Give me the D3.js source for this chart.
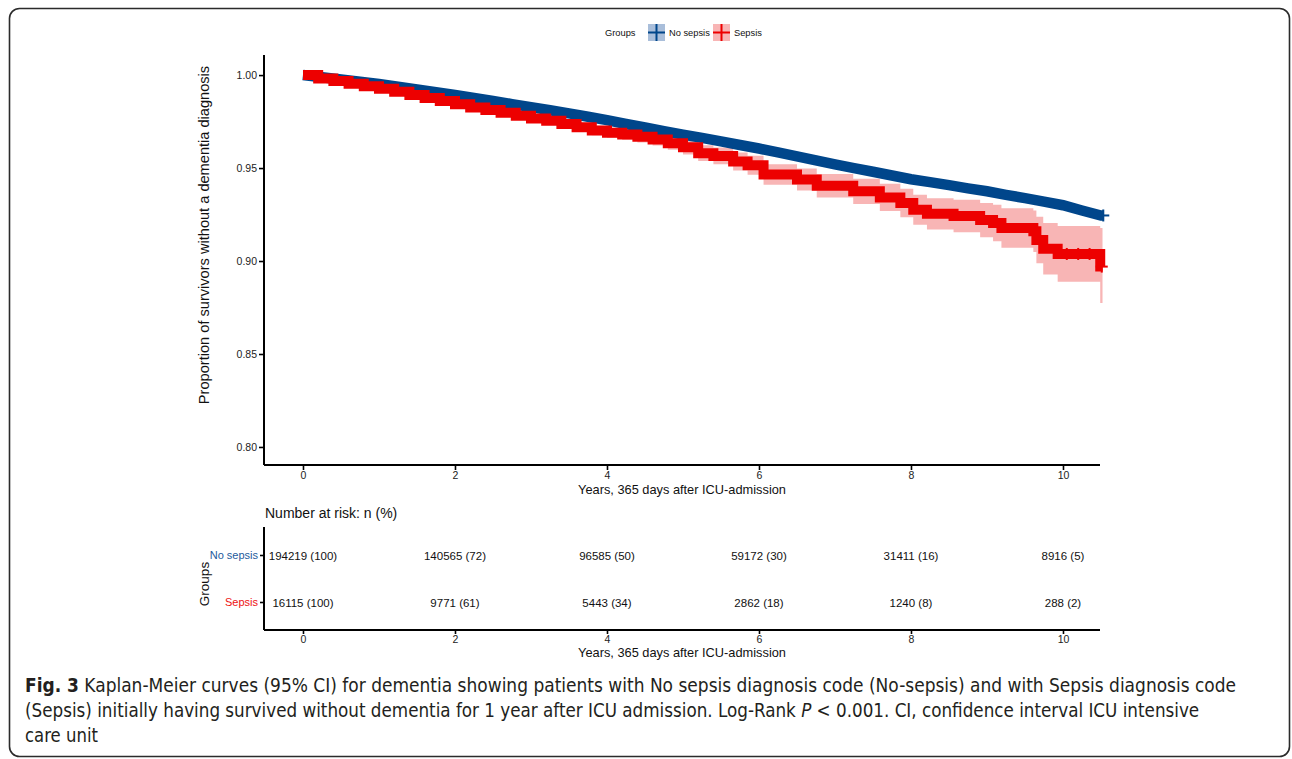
<!DOCTYPE html>
<html><head><meta charset="utf-8">
<script src="https://cdn.jsdelivr.net/npm/d3@7"></script>
<style>
html,body{margin:0;padding:0;background:#fff;}
svg{display:block;font-family:"Liberation Sans",Arial,Helvetica,sans-serif;}
svg text{font-family:"Liberation Sans",Arial,Helvetica,sans-serif;}
svg text.cap{font-family:"DejaVu Sans Condensed","Liberation Sans Narrow",sans-serif;}
</style></head><body>
<svg id="c" width="1292" height="759"></svg>
<script>
// ---------- DATA ----------
const groups = ["No sepsis", "Sepsis"];
const xTicks = [0, 2, 4, 6, 8, 10];
const yTicks = [0.80, 0.85, 0.90, 0.95, 1.00];
const riskNoSepsis = ["194219 (100)", "140565 (72)", "96585 (50)", "59172 (30)", "31411 (16)", "8916 (5)"];
const riskSepsis = ["16115 (100)", "9771 (61)", "5443 (34)", "2862 (18)", "1240 (8)", "288 (2)"];

const noSepsisTime = [0,0.25,0.5,0.75,1,1.25,1.5,1.75,2,2.25,2.5,2.75,3,3.25,3.5,3.75,4,4.25,4.5,4.75,5,5.25,5.5,5.75,6,6.25,6.5,6.75,7,7.25,7.5,7.75,8,8.25,8.5,8.75,9,9.25,9.5,9.75,10,10.25,10.5,10.54];
const noSepsisSurv = [1.0000,0.9988,0.9976,0.9964,0.9952,0.9938,0.9923,0.9908,0.9893,0.9877,0.9861,0.9844,0.9828,0.9811,0.9794,0.9776,0.9758,0.9737,0.9718,0.9699,0.9680,0.9662,0.9643,0.9624,0.9605,0.9584,0.9563,0.9541,0.9520,0.9500,0.9480,0.9460,0.9440,0.9424,0.9408,0.9391,0.9375,0.9356,0.9338,0.9319,0.9300,0.9272,0.9245,0.9245];
const noSepsisLower = [1.0000,0.9986,0.9974,0.9962,0.9950,0.9935,0.9920,0.9905,0.9890,0.9874,0.9858,0.9841,0.9824,0.9807,0.9790,0.9772,0.9754,0.9732,0.9713,0.9694,0.9675,0.9657,0.9637,0.9618,0.9599,0.9578,0.9556,0.9534,0.9513,0.9493,0.9472,0.9452,0.9432,0.9415,0.9399,0.9381,0.9365,0.9345,0.9326,0.9307,0.9287,0.9258,0.9230,0.9230];
const noSepsisUpper = [1.0000,0.9990,0.9978,0.9966,0.9954,0.9941,0.9926,0.9911,0.9896,0.9880,0.9864,0.9847,0.9832,0.9815,0.9798,0.9780,0.9762,0.9742,0.9723,0.9704,0.9685,0.9667,0.9649,0.9630,0.9611,0.9590,0.9570,0.9548,0.9527,0.9507,0.9488,0.9468,0.9448,0.9433,0.9417,0.9401,0.9385,0.9367,0.9350,0.9331,0.9313,0.9286,0.9260,0.9260];

const sepsisTime = [0,0.2,0.4,0.6,0.8,1.0,1.2,1.4,1.6,1.8,2.0,2.2,2.4,2.6,2.8,3.0,3.2,3.4,3.6,3.8,4.0,4.2,4.4,4.6,4.8,5.0,5.2,5.4,5.66,5.85,6.06,6.5,6.76,7.24,7.59,7.86,8.03,8.21,8.56,8.91,9.08,9.19,9.61,9.65,9.74,9.93,10.49,10.52];
const sepsisSurv = [1.000,0.9982,0.9968,0.9954,0.9940,0.9926,0.9910,0.9893,0.9877,0.9861,0.9843,0.9826,0.9812,0.9798,0.9781,0.9766,0.9754,0.9737,0.9720,0.9702,0.9690,0.9680,0.9668,0.9654,0.9634,0.9612,0.9580,0.9565,0.9535,0.9515,0.9465,0.9438,0.9405,0.9375,0.9342,0.9312,0.9276,0.9254,0.9242,0.9220,0.9204,0.9178,0.9160,0.9113,0.9066,0.9038,0.8970,0.8970];
const sepsisLower = [1.000,0.9978,0.9962,0.9946,0.9931,0.9916,0.9899,0.9881,0.9864,0.9847,0.9828,0.9810,0.9795,0.9780,0.9762,0.9746,0.9733,0.9715,0.9697,0.9677,0.9663,0.9651,0.9637,0.9621,0.9598,0.9573,0.9538,0.9520,0.9487,0.9464,0.9410,0.9379,0.9342,0.9307,0.9269,0.9235,0.9195,0.9170,0.9155,0.9128,0.9106,0.9072,0.9048,0.8988,0.8928,0.8888,0.8774,0.8774];
const sepsisUpper = [1.000,0.9986,0.9974,0.9962,0.9949,0.9936,0.9921,0.9905,0.9890,0.9875,0.9858,0.9842,0.9829,0.9816,0.9800,0.9786,0.9775,0.9759,0.9743,0.9727,0.9717,0.9709,0.9699,0.9687,0.9670,0.9651,0.9622,0.9610,0.9583,0.9566,0.9520,0.9497,0.9468,0.9443,0.9415,0.9389,0.9357,0.9338,0.9329,0.9312,0.9302,0.9284,0.9272,0.9238,0.9204,0.9188,0.9177,0.9177];

const noSepsisCensor = [10.53];
const sepsisCensor = [10.05, 10.2, 10.35, 10.51];

const captionLines = [
  [{b: true, s: "Fig. 3"}, {s: " Kaplan-Meier curves (95% CI) for dementia showing patients with No sepsis diagnosis code (No-sepsis) and with Sepsis diagnosis code"}],
  [{s: "(Sepsis) initially having survived without dementia for 1 year after ICU admission. Log-Rank "}, {i: true, s: "P"}, {s: " < 0.001. CI, confidence interval ICU intensive"}],
  [{s: "care unit"}]
];

// ---------- STYLE ----------
const colBlue = "#00468B", colRed = "#ED0000";
const fillBlue = "#A9BEDA", fillRed = "#F8B5B5";
const FONT = "'Liberation Sans', Arial, Helvetica, sans-serif";

const svg = d3.select("#c");

// frame
svg.append("rect").attr("x", 9.5).attr("y", 8.5).attr("width", 1280).attr("height", 748)
  .attr("rx", 10).attr("fill", "none").attr("stroke", "#2b2b2b").attr("stroke-width", 1.6);

// scales
const x = d3.scaleLinear().domain([-0.513, 10.487]).range([264, 1100]);
const y = d3.scaleLinear().domain([0.7903, 1.0108]).range([465, 55]);

const mk = (t, s) => t.map((d, i) => ({t: d, s: s[i]}));
const mkCI = (t, lo, hi) => t.map((d, i) => ({t: d, lo: lo[i], hi: hi[i]}));

const areaStep = d3.area().curve(d3.curveStepAfter).x(d => x(d.t)).y0(d => y(d.lo)).y1(d => y(d.hi));
const lineStep = d3.line().curve(d3.curveStepAfter).x(d => x(d.t)).y(d => y(d.s));
const areaLin = d3.area().x(d => x(d.t)).y0(d => y(d.lo)).y1(d => y(d.hi));
const lineLin = d3.line().x(d => x(d.t)).y(d => y(d.s));

const plot = svg.append("g");
plot.append("path").datum(mkCI(noSepsisTime, noSepsisLower, noSepsisUpper)).attr("d", areaLin).attr("fill", fillBlue);
plot.append("path").datum(mkCI(sepsisTime, sepsisLower, sepsisUpper)).attr("d", areaStep).attr("fill", fillRed);
plot.append("path").datum(mk(noSepsisTime, noSepsisSurv)).attr("d", lineLin)
  .attr("fill", "none").attr("stroke", colBlue).attr("stroke-width", 10.5);
plot.append("path").datum(mk(sepsisTime, sepsisSurv)).attr("d", lineStep)
  .attr("fill", "none").attr("stroke", colRed).attr("stroke-width", 10);

function survAt(times, surv, t) {
  let v = surv[0];
  for (let i = 0; i < times.length; i++) if (times[i] <= t) v = surv[i];
  return v;
}
function cross(g, cx, cy, col) {
  g.append("line").attr("x1", cx - 6).attr("x2", cx + 6).attr("y1", cy).attr("y2", cy).attr("stroke", col).attr("stroke-width", 2);
  g.append("line").attr("x1", cx).attr("x2", cx).attr("y1", cy - 6).attr("y2", cy + 6).attr("stroke", col).attr("stroke-width", 2);
}
noSepsisCensor.forEach(t => cross(plot, x(t), y(survAt(noSepsisTime, noSepsisSurv, t)), colBlue));
sepsisCensor.forEach(t => cross(plot, x(t), y(survAt(sepsisTime, sepsisSurv, t)), colRed));

// axes
function styleAxis(g) {
  g.attr("font-family", FONT);
  g.select(".domain").attr("stroke", "#000").attr("stroke-width", 2);
  g.selectAll(".tick line").attr("stroke", "#000").attr("stroke-width", 1.6);
  g.selectAll(".tick text").attr("fill", "#222").style("font-size", "10.5px").style("font-family", FONT);
}
const yAx = svg.append("g").attr("transform", "translate(264,0)")
  .call(d3.axisLeft(y).tickValues(yTicks).tickFormat(d3.format(".2f")).tickSize(5).tickSizeOuter(0).tickPadding(2));
styleAxis(yAx);
yAx.select(".domain").attr("d", "M0,55V465");
const xAx = svg.append("g").attr("transform", "translate(0,465)")
  .call(d3.axisBottom(x).tickValues(xTicks).tickSize(5).tickSizeOuter(0).tickPadding(2));
styleAxis(xAx);
xAx.select(".domain").attr("d", "M264,0H1100");

function txt(xp, yp, s, size, anchor, fill) {
  return svg.append("text").attr("x", xp).attr("y", yp).attr("text-anchor", anchor || "start")
    .style("font-size", size + "px").style("font-family", FONT).attr("fill", fill || "#111").text(s);
}
txt(682, 494, "Years, 365 days after ICU-admission", 12.8, "middle");
svg.append("text").attr("transform", "translate(209,235) rotate(-90)").attr("text-anchor", "middle")
  .style("font-size", "14.6px").style("font-family", FONT).attr("fill", "#111")
  .text("Proportion of survivors without a dementia diagnosis");

// legend
txt(605, 35.5, "Groups", 9.3);
const legItems = [{n: groups[0], c: colBlue, f: fillBlue, x: 648}, {n: groups[1], c: colRed, f: fillRed, x: 713}];
legItems.forEach(it => {
  svg.append("rect").attr("x", it.x).attr("y", 24).attr("width", 17).attr("height", 17).attr("fill", it.f);
  svg.append("line").attr("x1", it.x).attr("x2", it.x + 17).attr("y1", 32.5).attr("y2", 32.5).attr("stroke", it.c).attr("stroke-width", 2);
  svg.append("line").attr("x1", it.x + 8.5).attr("x2", it.x + 8.5).attr("y1", 24).attr("y2", 41).attr("stroke", it.c).attr("stroke-width", 2);
  txt(it.x + 21, 35.5, it.n, 9.3);
});

// risk table
txt(265, 518, "Number at risk: n (%)", 14);
const yr = d3.scalePoint().domain(groups).range([555, 602]);
const rows = [riskNoSepsis, riskSepsis];
rows.forEach((r, gi) => {
  r.forEach((d, i) => txt(x(xTicks[i]), yr(groups[gi]) + 4.5, d, 11.5, "middle"));
});
const yrAx = svg.append("g").attr("transform", "translate(264,0)")
  .call(d3.axisLeft(yr).tickSize(4).tickSizeOuter(0).tickPadding(2));
styleAxis(yrAx);
yrAx.select(".domain").attr("d", "M0,527V630");
yrAx.selectAll(".tick text").style("font-size", "11px").attr("fill", d => d === groups[0] ? "#245A9C" : "#EE1111");
const xrAx = svg.append("g").attr("transform", "translate(0,630)")
  .call(d3.axisBottom(x).tickValues(xTicks).tickSize(4).tickSizeOuter(0).tickPadding(2));
styleAxis(xrAx);
xrAx.select(".domain").attr("d", "M264,0H1100");
txt(682, 657, "Years, 365 days after ICU-admission", 12.8, "middle");
svg.append("text").attr("transform", "translate(209,584) rotate(-90)").attr("text-anchor", "middle")
  .style("font-size", "13.5px").style("font-family", FONT).attr("fill", "#111").text("Groups");

// caption (each line horizontally fitted to the reference width)
const capCol = "#231F20";
const capY = [692, 717, 742];
const capW = [1212, 1175, 73];
captionLines.forEach((parts, li) => {
  const g = svg.append("g");
  const t = g.append("text").attr("class", "cap").attr("x", 0).attr("y", 0)
    .style("font-size", "20px").attr("fill", capCol);
  parts.forEach(p => {
    const ts = t.append("tspan").text(p.s);
    if (p.b) ts.style("font-weight", "bold");
    if (p.i) ts.style("font-style", "italic");
  });
  const w = t.node().getComputedTextLength();
  g.attr("transform", `translate(25,${capY[li]}) scale(${capW[li] / w},1)`);
});
</script>
</body></html>
